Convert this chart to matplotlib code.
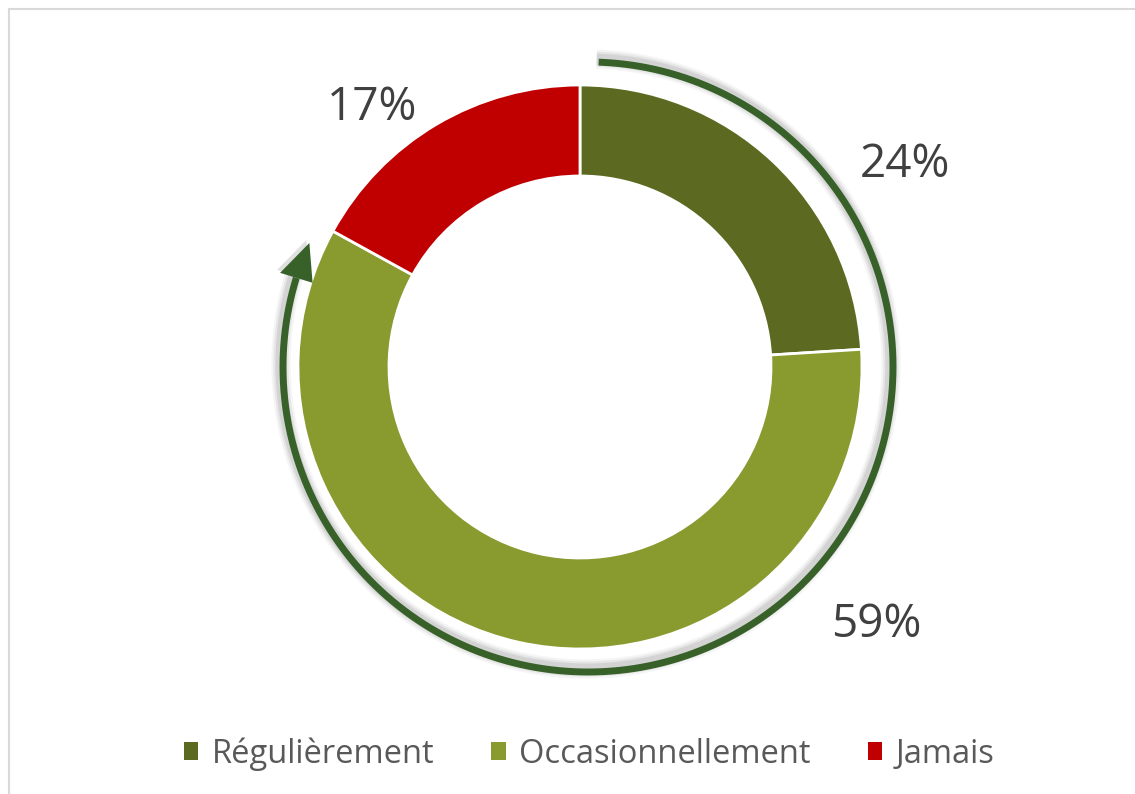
import numpy as np
import matplotlib.pyplot as plt
from matplotlib.patches import Patch, Polygon, Rectangle

# data
categories = ['Régulièrement', 'Occasionnellement', 'Jamais']
values = [24, 59, 17]
labels = ['24%', '59%', '17%']
colors = ['#5B6A20', '#899A2F', '#C00000']

plt.rcParams['font.family'] = ['Open Sans', 'DejaVu Sans']

W, H = 1135, 794
fig = plt.figure(figsize=(W / 100, H / 100), dpi=100)
ax = fig.add_axes([0, 0, 1, 1])

# donut (pixel coords, y flipped)
cx, cy, r = 580, H - 367, 282
ax.pie(values, radius=r, center=(cx, cy), startangle=90, counterclock=False,
       colors=colors, wedgeprops=dict(width=91, edgecolor='white', linewidth=2))

# percentage labels
lab_pos = [(905, 165), (876, 625), (372, 108)]
for (x, y), s in zip(lab_pos, labels):
    ax.text(x, H - y, s, fontsize=33, color='#404040', ha='center', va='center')

# arrow around the ring
acx, acy, ar = 588, H - 367, 305
th = np.radians(np.linspace(163, 448, 400))
ax_, ay_ = acx + ar * np.cos(th), acy + ar * np.sin(th)
for k, a in [(9, 0.04), (6, 0.06), (3, 0.08)]:
    ax.plot(ax_ - 2, ay_ + 3, color='black', lw=5 + k, alpha=a,
            solid_capstyle='butt', zorder=1)
ax.plot(ax_, ay_, color='#38612A', lw=5, solid_capstyle='butt', zorder=3)

# arrowhead
tb, tt = np.radians(163), np.radians(156.0)
bx, by = acx + ar * np.cos(tb), acy + ar * np.sin(tb)
tx, ty = acx + ar * np.cos(tt), acy + ar * np.sin(tt)
nx, ny = np.cos(tb), np.sin(tb)
hw = 17
head = [(bx + hw * nx, by + hw * ny), (bx - hw * nx, by - hw * ny), (tx, ty)]
ax.add_patch(Polygon([(p[0] - 3, p[1] + 3) for p in head], closed=True,
                     color='black', alpha=0.12, lw=0, zorder=1))
ax.add_patch(Polygon(head, closed=True, color='#38612A', lw=0, zorder=3))

# frame
ax.add_patch(Rectangle((9, -50), 1200, H - 9 + 50, fill=False,
                       edgecolor='#D9D9D9', lw=1.5, zorder=0))

handles = [Patch(facecolor=c, edgecolor='none') for c in colors]
ax.legend(handles, categories, loc='center', bbox_to_anchor=(589 / W, 1 - 754 / H),
          ncol=3, frameon=False, fontsize=23.5, labelcolor='#595959',
          handlelength=0.45, handleheight=0.45, handletextpad=0.4,
          columnspacing=1.75)

ax.set_xlim(0, W)
ax.set_ylim(0, H)
ax.set_aspect('equal')
ax.axis('off')
fig.savefig('out.png', dpi=100)
